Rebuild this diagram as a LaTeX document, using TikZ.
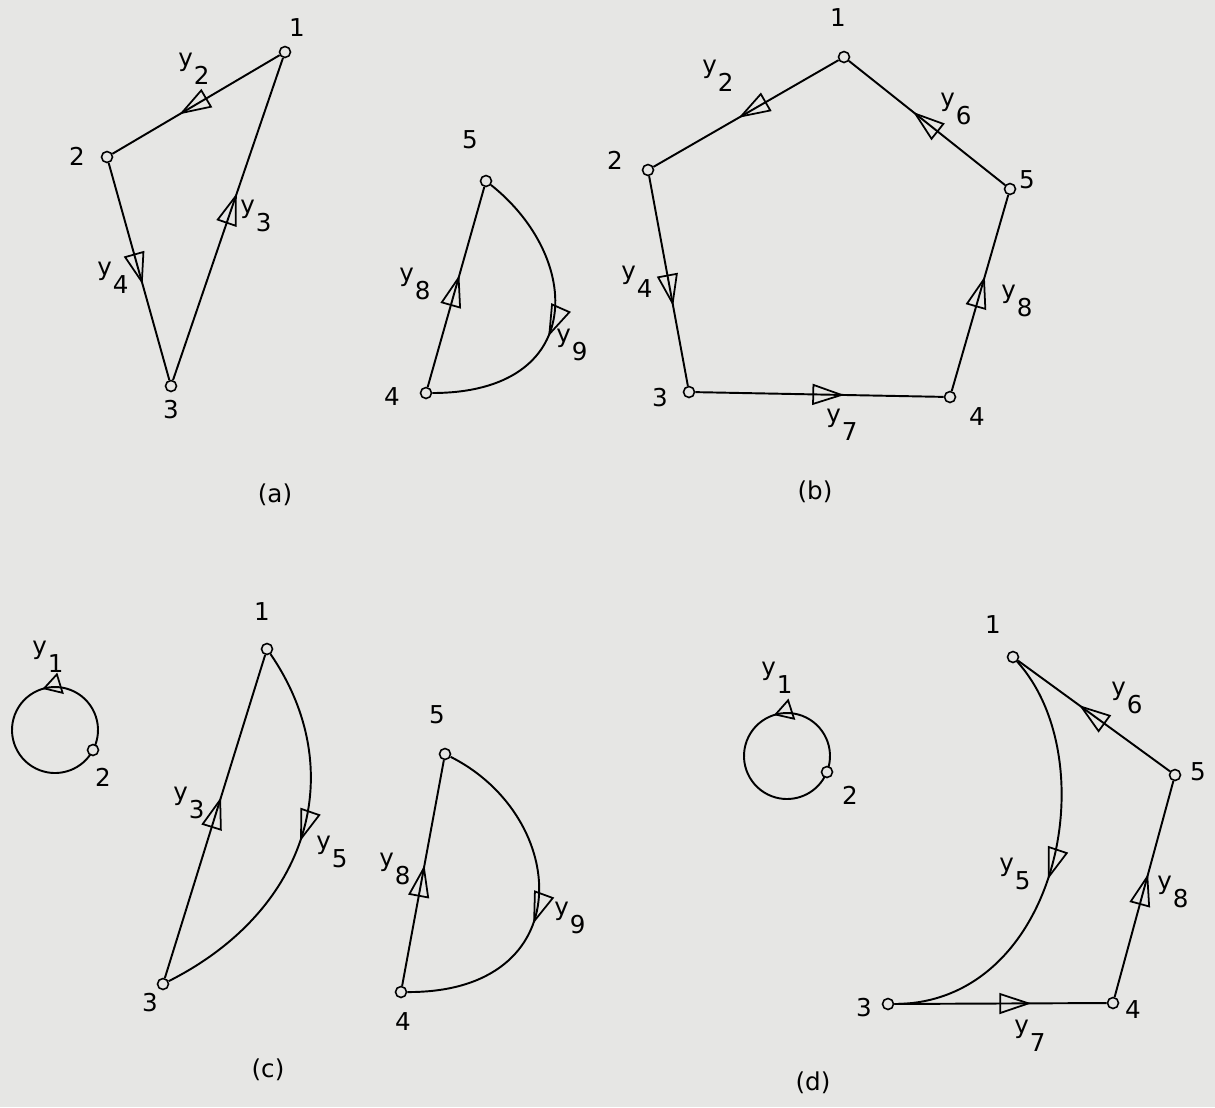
\documentclass[tikz,border=0pt]{standalone}
\usepackage{fontspec}
\setmainfont{DejaVu Sans}
\usepackage{tikz}
\usetikzlibrary{arrows.meta, decorations.markings}
\definecolor{paper}{RGB}{230,230,228}
\newcommand{\ylab}[1]{y\kern0.5pt\raisebox{-10.5pt}{#1}}

\begin{document}
\begin{tikzpicture}[x=0.02cm, y=0.02cm,
  vertex/.style={circle, draw, line width=0.9pt, fill=paper, inner sep=0pt, minimum size=0.22cm},
  lbl/.style={inner sep=0pt, font=\fontsize{14}{16}\selectfont},
  wire/.style={line width=1.1pt},
  arrowat/.style={postaction={decorate}, decoration={markings, mark=at position #1 with {\arrow{Triangle[open, length=0.64cm, width=0.42cm, line width=1pt]}}}},
  loopat/.style={postaction={decorate}, decoration={markings, mark=at position #1 with {\arrow{Triangle[open, length=0.38cm, width=0.44cm, line width=1pt]}}}}]
\useasboundingbox[fill=paper] (0,0) rectangle (1215,-1107);
% Vertices (pixel positions, y downwards)
\foreach \n/\x/\y in {a1/285/52, a2/107/157, a3/171/386, a4/426/393, a5/486/181,
  b1/844/57, b2/648/170, b3/689/392, b4/950/397, b5/1010/189,
  c1/267/649, c2/93/750, c3/163/984, c4/401/992, c5/445/754,
  d1/1013/657, d2/827/772, d3/888/1004, d4/1113/1003, d5/1175/775}
  \node[vertex] (\n) at (\x,-\y) {};
% Vertex numbers
\foreach \n/\x/\y/\t in {a1/297/28/1, a2/77/156/2, a3/171/410/3, a4/392/397/4, a5/470/140/5,
  b1/838/18/1, b2/615/160/2, b3/660/398/3, b4/977/417/4, b5/1027/180/5,
  c1/262/612/1, c2/103/777/2, c3/150/1003/3, c4/403/1022/4, c5/437/715/5,
  d1/993/625/1, d2/850/795/2, d3/864/1008/3, d4/1133/1010/4, d5/1198/772/5}
  \node[lbl] (n\n) at (\x,-\y) {\t};

% (a)
\draw[wire, arrowat=0.60] (a1) -- (a2);
\draw[wire, arrowat=0.58] (a3) -- (a1);
\draw[wire, arrowat=0.56] (a2) -- (a3);
\draw[wire, arrowat=0.56] (a4) -- (a5);
\draw[wire, arrowat=0.56] (a5) .. controls (583,-258) and (587,-393) .. (a4);
\node[lbl] (ya2) at (194,-69) {\ylab{2}};
\node[lbl] (ya3) at (256,-216) {\ylab{3}};
\node[lbl] (ya4) at (113,-278) {\ylab{4}};
\node[lbl] (ya8) at (415,-284) {\ylab{8}};
\node[lbl] (ya9) at (572,-345) {\ylab{9}};
\node[lbl] (capa) at (275,-495) {(a)};

% (b)
\draw[wire, arrowat=0.54] (b1) -- (b2);
\draw[wire, arrowat=0.59] (b5) -- (b1);
\draw[wire, arrowat=0.62] (b2) -- (b3);
\draw[wire, arrowat=0.60] (b3) -- (b4);
\draw[wire, arrowat=0.585] (b4) -- (b5);
\node[lbl] (yb2) at (718,-76) {\ylab{2}};
\node[lbl] (yb6) at (956,-109) {\ylab{6}};
\node[lbl] (yb4) at (637,-282) {\ylab{4}};
\node[lbl] (yb7) at (842,-425) {\ylab{7}};
\node[lbl] (yb8) at (1017,-301) {\ylab{8}};
\node[lbl] (capb) at (815,-492) {(b)};

% (c)
\coordinate (cloop) at (55,-730);
\draw[wire, loopat=0.37] (cloop) ++(-21:43) arc[start angle=-21, end angle=325, radius=43];
\draw[wire, arrowat=0.56] (c3) -- (c1);
\draw[wire, arrowat=0.50] (c1) .. controls (350,-770) and (310,-910) .. (c3);
\draw[wire, arrowat=0.535] (c4) -- (c5);
\draw[wire, arrowat=0.57] (c5) .. controls (570,-817) and (581,-993) .. (c4);
\node[lbl] (yc1) at (48,-657) {\ylab{1}};
\node[lbl] (yc3) at (189,-803) {\ylab{3}};
\node[lbl] (yc5) at (332,-852) {\ylab{5}};
\node[lbl] (yc8) at (395,-869) {\ylab{8}};
\node[lbl] (yc9) at (570,-918) {\ylab{9}};
\node[lbl] (capc) at (268,-1070) {(c)};

% (d)
\coordinate (dloop) at (787,-756);
\draw[wire, loopat=0.355] (dloop) ++(-15:43) arc[start angle=-15, end angle=331, radius=43];
\draw[wire, arrowat=0.60] (d5) -- (d1);
\draw[wire, arrowat=0.57] (d4) -- (d5);
\draw[wire, arrowat=0.645] (d3) -- (d4);
\draw[wire, arrowat=0.52] (d1) .. controls (1107,-761) and (1058,-1004) .. (d3);
\node[lbl] (yd1) at (777,-678) {\ylab{1}};
\node[lbl] (yd6) at (1127,-698) {\ylab{6}};
\node[lbl] (yd5) at (1015,-874) {\ylab{5}};
\node[lbl] (yd8) at (1173,-892) {\ylab{8}};
\node[lbl] (yd7) at (1030,-1036) {\ylab{7}};
\node[lbl] (capd) at (813,-1083) {(d)};
\end{tikzpicture}
\end{document}
